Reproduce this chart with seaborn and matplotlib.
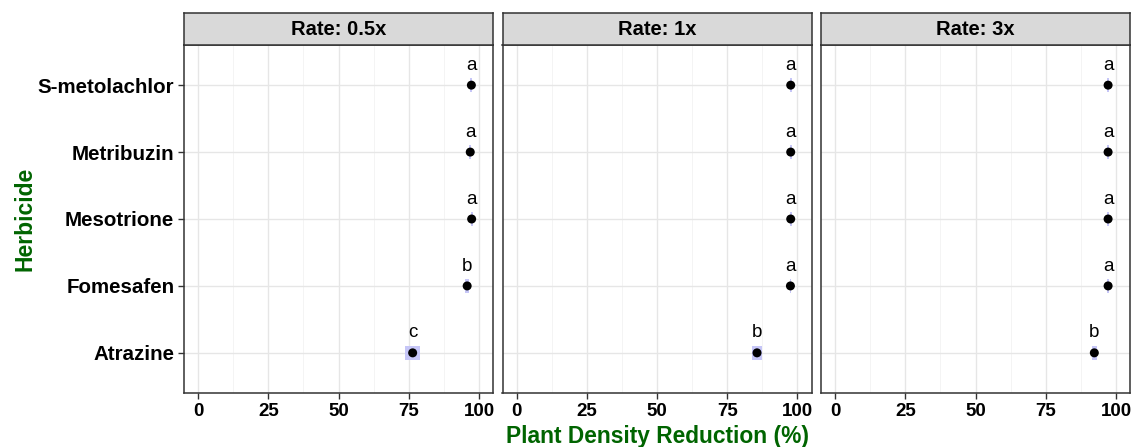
import numpy as np
import pandas as pd
import seaborn as sns
import matplotlib.pyplot as plt

# values
rates = ["0.5x", "1x", "3x"]
herbicides = ["S-metolachlor", "Metribuzin", "Mesotrione", "Fomesafen", "Atrazine"]

reduction_05 = [97.3, 96.9, 97.4, 95.8, 76.4]
reduction_1 = [97.6, 97.6, 97.6, 97.5, 85.6]
reduction_3 = [97.2, 97.2, 97.2, 97.2, 92.3]

se_05 = [0.4, 0.4, 0.4, 0.8, 2.6]
se_1 = [0.3, 0.3, 0.3, 0.3, 1.8]
se_3 = [0.3, 0.3, 0.3, 0.3, 0.8]

letters_05 = ["a", "a", "a", "b", "c"]
letters_1 = ["a", "a", "a", "a", "b"]
letters_3 = ["a", "a", "a", "a", "b"]

GREEN = "#006400"
BAND = "#c6c6f7"
FRAME = "#333333"

sns.set_theme(style="white")
plt.rcParams["font.family"] = ["Liberation Sans", "DejaVu Sans"]
plt.rcParams["text.color"] = "black"

frames = []
for rate, vals, ses, lets in [("0.5x", reduction_05, se_05, letters_05),
                              ("1x", reduction_1, se_1, letters_1),
                              ("3x", reduction_3, se_3, letters_3)]:
    frames.append(pd.DataFrame({"Rate": rate, "Herbicide": herbicides,
                                "Reduction": vals, "SE": ses, "Letter": lets}))
df = pd.concat(frames, ignore_index=True)
df["ypos"] = df["Herbicide"].map({h: i for i, h in enumerate(herbicides)})

fig = plt.figure(figsize=(11.34, 4.47), dpi=100)
W, H = 1134.0, 447.0
lefts = [184, 502.5, 821]
pw = 309
bottom, top = 393, 45
strip_top = 13

for k, rate in enumerate(rates):
    ax = fig.add_axes([lefts[k] / W, 1 - bottom / H, pw / W, (bottom - top) / H])
    sub = df[df["Rate"] == rate]

    # grid like theme_bw
    for v in [12.5, 37.5, 62.5, 87.5]:
        ax.axvline(v, color="#f2f2f2", lw=0.6, zorder=0)
    for v in [0, 25, 50, 75, 100]:
        ax.axvline(v, color="#e6e6e6", lw=1.0, zorder=0)
    for v in range(len(herbicides)):
        ax.axhline(v, color="#e6e6e6", lw=1.0, zorder=0)

    ax.barh(sub["ypos"], 2 * sub["SE"], left=sub["Reduction"] - sub["SE"],
            height=0.21, color=BAND, edgecolor="none", zorder=2)
    sns.scatterplot(data=sub, x="Reduction", y="ypos", color="black", s=42,
                    edgecolor="none", zorder=3, ax=ax, legend=False)
    for _, r in sub.iterrows():
        ax.text(r["Reduction"], r["ypos"] - 0.17, r["Letter"], ha="center",
                va="bottom", fontsize=13.5, color="black", zorder=4)

    ax.set_xlim(-5, 105)
    ax.set_ylim(len(herbicides) - 0.4, -0.6)
    ax.set_xticks([0, 25, 50, 75, 100])
    ax.set_xticklabels(["0", "25", "50", "75", "100"], fontsize=13.5, fontweight="bold")
    ax.set_yticks(range(len(herbicides)))
    if k == 0:
        ax.set_yticklabels(herbicides, fontsize=14.8, fontweight="bold")
    else:
        ax.set_yticklabels([])
    ax.tick_params(axis="both", length=4, width=1, color=FRAME, pad=3,
                   left=(k == 0), bottom=True, labelcolor="black")
    ax.set_xlabel("")
    ax.set_ylabel("")
    for sp in ax.spines.values():
        sp.set_color(FRAME)
        sp.set_linewidth(1.1)

    # facet strip
    sax = fig.add_axes([lefts[k] / W, 1 - top / H, pw / W, (top - strip_top) / H])
    sax.set_facecolor("#d9d9d9")
    sax.set_xticks([])
    sax.set_yticks([])
    for sp in sax.spines.values():
        sp.set_color(FRAME)
        sp.set_linewidth(1.1)
    sax.text(0.5, 0.48, f"Rate: {rate}", ha="center", va="center", color="black",
             fontsize=14.5, fontweight="bold", transform=sax.transAxes)

fig.text(25 / W, 1 - 219 / H, "Herbicide", rotation=90, ha="center", va="center",
         fontsize=16.5, fontweight="bold", color=GREEN)
fig.text(657 / W, 1 - 443 / H, "Plant Density Reduction (%)", ha="center",
         va="baseline", fontsize=16.4, fontweight="bold", color=GREEN)

fig.savefig("out.png", dpi=100)
